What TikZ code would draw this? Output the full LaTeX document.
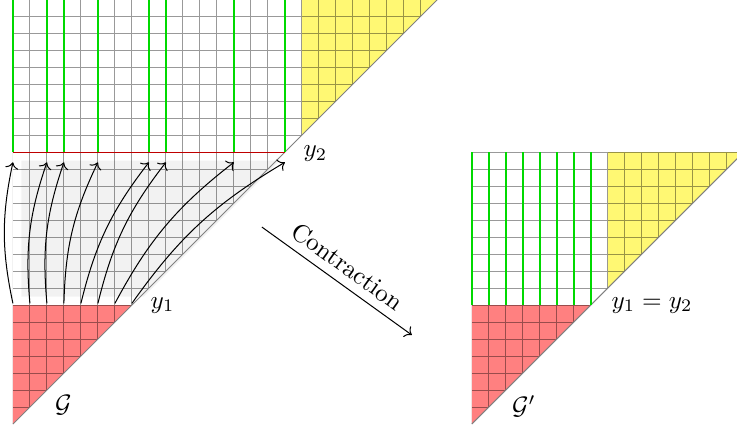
\documentclass[tikz,border=0pt]{standalone}
\usetikzlibrary{arrows.meta, positioning, calc}
\tikzset{
  cell/.style={draw=black, line width=0.4pt, opacity=0.4},
  diag/.style={draw=gray, line width=0.4pt},
  gfill/.style={fill=red!50},
  yfill/.style={fill=yellow!55},
  gline/.style={draw=green!85!black, line width=0.55pt},
  cut/.style={draw=red!75!black, line width=0.4pt},
  lift/.style={->, line width=0.4pt},
}

\begin{document}
\begin{tikzpicture}[x=0.237cm, y=0.237cm]
  \clip (-0.76,-0.35) rectangle (42.6,24.95);
  % left: G
  \fill[gfill] (0,0) -- (0,7) -- (7,7) -- cycle;
  \fill[gray!10] (0.5,7.5) -- (0.5,15.5) -- (15.7,15.5) -- (7.7,7.5) -- cycle;
  \fill[yfill] (17,17) -- (17,26) -- (26,26) -- cycle;
  \begin{scope}
    \clip (0,0) -- (0,26) -- (26,26) -- cycle;
    \draw[cell, step=1] (0,0) grid (26,26);
  \end{scope}
  \draw[diag] (0,0) -- (26,26);
  \draw[cut] (0,16) -- (16,16);
  \foreach \c in {0,2,3,5,8,9,13,16}
    \draw[gline] (\c,16) -- (\c,26);
  \foreach \a/\b in {0/0,1/2,2/3,3/5,4/8,5/9,6/13,7/16} {
    \coordinate (s\a) at (\a,7.1);
    \coordinate (t\a) at (\b,15.4);
    \draw[lift] (s\a) to[bend left=12] (t\a);
  }
  \node (y2) at (17.8,15.9) {$y_2$};
  \node (y1) at (8.8,7.0) {$y_1$};
  \node (G) at (2.97,1.1) {$\mathcal{G}$};

  % contraction
  \coordinate (cs) at (14.65,11.59);
  \coordinate (ce) at (23.47,5.24);
  \draw[->] (cs) -- node[midway, above, sloped] {Contraction} (ce);

  % right: G'
  \begin{scope}[shift={(27,0)}]
    \fill[gfill] (0,0) -- (0,7) -- (7,7) -- cycle;
    \fill[yfill] (8,8) -- (8,16) -- (16,16) -- cycle;
    \begin{scope}
      \clip (0,0) -- (0,16) -- (16,16) -- cycle;
      \draw[cell, step=1] (0,0) grid (16,16);
    \end{scope}
    \draw[diag] (0,0) -- (16,16);
    \foreach \c in {0,...,7}
      \draw[gline] (\c,7) -- (\c,16);
    \node (y12) at (10.6,7.0) {$y_1 = y_2$};
    \node (Gp) at (3.06,1.06) {$\mathcal{G}'$};
  \end{scope}
\end{tikzpicture}
\end{document}
